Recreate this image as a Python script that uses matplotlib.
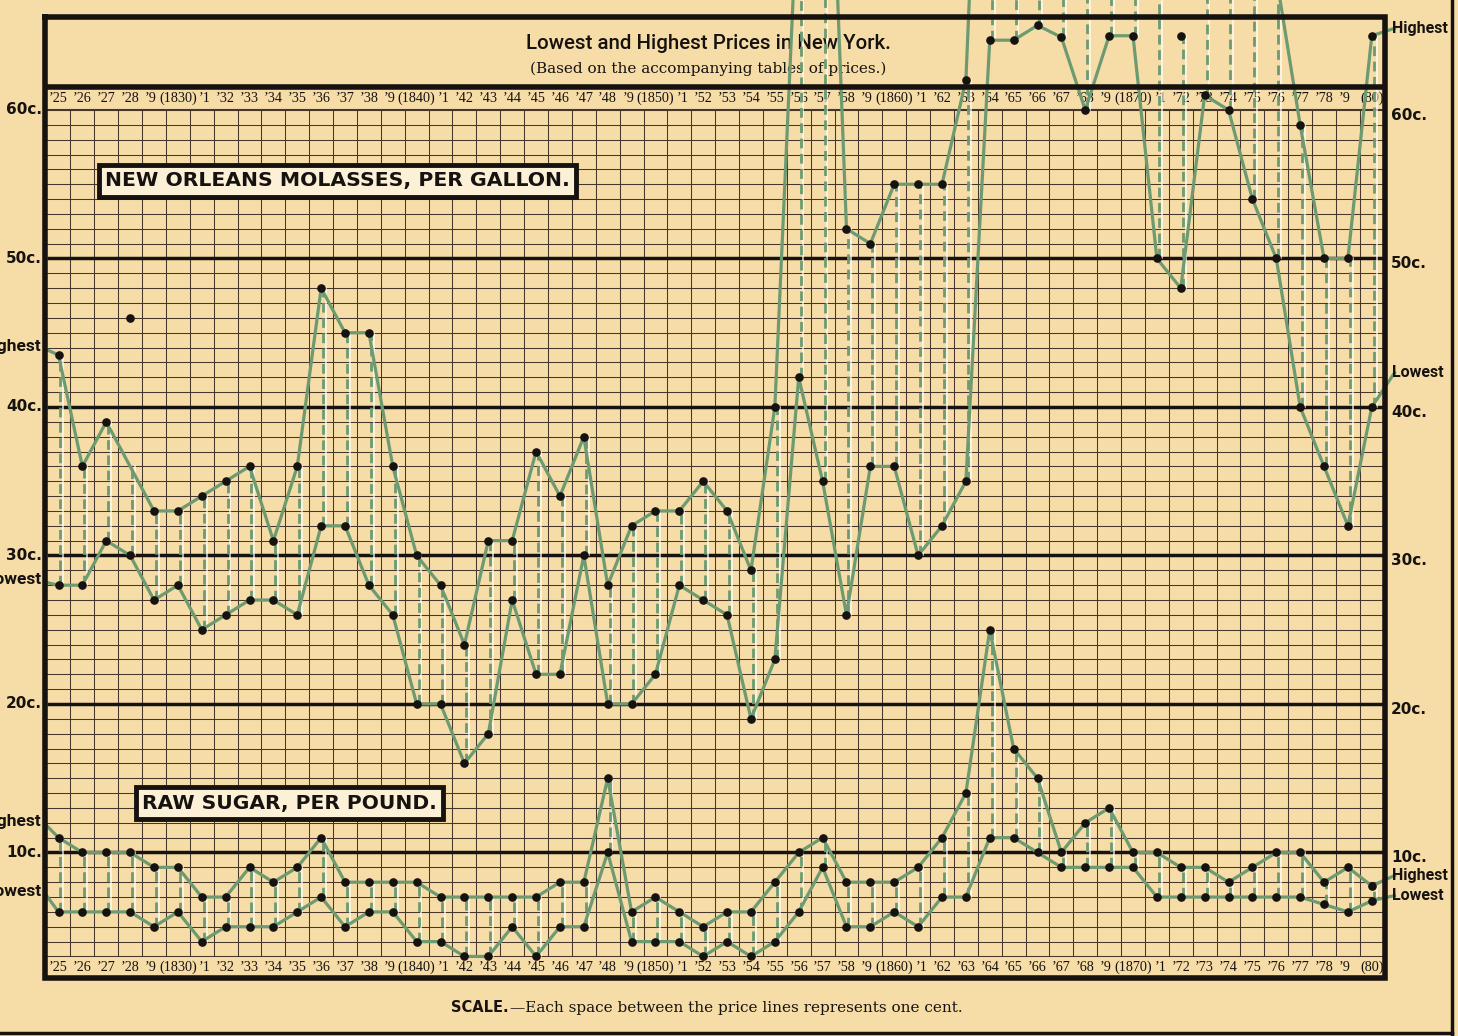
import numpy as np
import matplotlib.pyplot as plt

# Lowest and highest prices in New York, cents
years = np.arange(1825, 1881)

mol_hi = [43.5, 36, 39, 46, 33, 33, 34, 35, 36, 31,
          36, 48, 45, 45, 36, 30, 28, 24, 31, 31,
          37, 34, 38, 28, 32, 33, 33, 35, 33, 29,
          40, 76, 94, 52, 51, 55, 55, 55, 62, 100,
          95, 90, 88, 85, 85, 82, 78, 65, 74, 76,
          72, 69, 59, 50, 50, 65]
mol_lo = [28, 28, 31, 30, 27, 28, 25, 26, 27, 27,
          26, 32, 32, 28, 26, 20, 20, 16, 18, 27,
          22, 22, 30, 20, 20, 22, 28, 27, 26, 19,
          23, 42, 35, 26, 36, 36, 30, 32, 35, 64.7,
          64.7, 65.7, 64.9, 60, 65, 65, 50, 48, 61, 60,
          54, 50, 40, 36, 32, 40]
# highs the engraver left as loose dots, not joined into the line
mol_hi_loose = [1828, 1872]

sug_hi = [11, 10, 10, 10, 9, 9, 7, 7, 9, 8,
          9, 11, 8, 8, 8, 8, 7, 7, 7, 7,
          7, 8, 8, 15, 6, 7, 6, 5, 6, 6,
          8, 10, 11, 8, 8, 8, 9, 11, 14, 25,
          17, 15, 10, 12, 13, 10, 10, 9, 9, 8,
          9, 10, 10, 8, 9, 7.75]
sug_lo = [6, 6, 6, 6, 5, 6, 4, 5, 5, 5,
          6, 7, 5, 6, 6, 4, 4, 3, 3, 5,
          3, 5, 5, 10, 4, 4, 4, 3, 4, 3,
          4, 6, 9, 5, 5, 6, 5, 7, 7, 11,
          11, 10, 9, 9, 9, 9, 7, 7, 7, 7,
          7, 7, 7, 6.5, 6, 6.75]

year_labels = ["’25", "’26", "’27", "’28", "’9", "(1830)", "’1", "’32", "’33", "’34",
               "’35", "’36", "’37", "’38", "’9", "(1840)", "’1", "’42", "’43", "’44",
               "’45", "’46", "’47", "’48", "’9", "(1850)", "’1", "’52", "’53", "’54",
               "’55", "’56", "’57", "’58", "’9", "(1860)", "’1", "’62", "’63", "’64",
               "’65", "’66", "’67", "’68", "’9", "(1870)", "’1", "’72", "’73", "’74",
               "’75", "’76", "’77", "’78", "’9", "(80)"]
price_levels = [10, 20, 30, 40, 50, 60]

paper = '#f6dca7'
ink = '#161210'
gridc = '#46362c'
green = '#6d9a71'
sans_c = 'Roboto'

fig = plt.figure(figsize=(14.58, 10.36), dpi=100)
fig.patch.set_facecolor(paper)
ax = fig.add_axes([0, 0, 1, 1])
ax.set_facecolor(paper)
ax.set_xlim(1822.55, 1883.61)
ax.set_ylim(-2.357, 67.407)
ax.axis('off')

X0, X1 = years[0] - 0.5, years[-1] + 0.5
TOP, STRIP, GTOP, GBOT, BOT = 66.26, 61.55, 60, 3, 1.55

# ruled grid: one line per cent, heavy line every ten cents
for v in range(GBOT, GTOP + 1):
    if v in price_levels[:-1]:
        ax.plot([X0, X1], [v, v], color=ink, lw=2.5, zorder=2, solid_capstyle='butt')
    else:
        ax.plot([X0, X1], [v, v], color=gridc, lw=0.75 if v != GTOP else 1.5, zorder=1)
for x in years[:-1] + 0.5:
    ax.plot([x, x], [GBOT, GTOP], color=gridc, lw=0.75, zorder=1)

# frame
ax.plot([X0 - 0.05, X1 + 0.05, X1 + 0.05, X0 - 0.05, X0 - 0.05],
        [TOP, TOP, BOT, BOT, TOP], color=ink, lw=4, zorder=6, solid_joinstyle='miter')
ax.plot([X0, X1], [STRIP, STRIP], color=ink, lw=4, zorder=6)
# page border
ax.plot([1883.35, 1883.35], [-3, 68], color=ink, lw=2.5, zorder=6)
ax.plot([1822, 1883.35], [-2.16, -2.16], color=ink, lw=2.5, zorder=6)

# year strips; the labels beside a "(18x0)" are nudged apart
for i, (yr, lab) in enumerate(zip(years, year_labels)):
    shift = 0
    if i + 1 < len(year_labels) and year_labels[i + 1].startswith('('):
        shift = -0.14
    elif i > 0 and year_labels[i - 1].startswith('('):
        shift = 0.14
    for v in (60.78, 2.27):
        ax.text(yr + shift, v, lab, ha='center', va='center', fontsize=10.2,
                family='Liberation Serif', color=ink, zorder=2)

# price labels both sides
for p in price_levels:
    ax.text(1824.31, p, f'{p}c.', ha='right', va='center', fontsize=11,
            fontweight='bold', color=ink)
    ax.text(1880.8, p - 0.35, f'{p}c.', ha='left', va='center', fontsize=11,
            fontweight='bold', color=ink)

ax.text(1852.2, 64.5, 'Lowest and Highest Prices in New York.', ha='center', va='center',
        fontsize=14.8, family=sans_c, fontweight='medium', color=ink, zorder=2)
ax.text(1852.2, 62.76, '(Based on the accompanying tables of prices.)', ha='center',
        va='center', fontsize=11, family='DejaVu Serif', color=ink, zorder=2)

ax.text(1843.87, -0.47, 'SCALE.', ha='right', va='center', fontsize=10.5,
        fontweight='bold', color=ink)
ax.text(1843.9, -0.47, '—Each space between the price lines represents one cent.',
        ha='left', va='center', fontsize=11, family='DejaVu Serif', color=ink)


def draw_pair(hi, lo, loose=()):
    hi = np.array(hi, dtype=float)
    lo = np.array(lo, dtype=float)
    linked = ~np.isin(years, loose)
    line_hi = np.interp(years, years[linked], hi[linked])
    top = np.minimum(hi, line_hi)
    for yr, a, b in zip(years, lo, top):
        ax.plot([yr + 0.2, yr + 0.2], [a, b], color='white', lw=1.1, alpha=0.85, zorder=3)
        ax.plot([yr + 0.08, yr + 0.08], [a, b], color=green, lw=2,
                linestyle=(0, (3.5, 2)), zorder=3)
    ax.plot(years[linked], hi[linked], color=green, lw=2.3, zorder=4,
            solid_joinstyle='round')
    ax.plot(years, lo, color=green, lw=2.3, zorder=4, solid_joinstyle='round')
    ax.plot(years, hi, 'o', color=ink, ms=5.2, zorder=5)
    ax.plot(years, lo, 'o', color=ink, ms=5.2, zorder=5)
    return hi, lo


def side_labels(hi, lo, left_v, right_v):
    # leader lines run from the end points out to the Highest / Lowest labels
    for val, lv, rv, name in zip((hi, lo), left_v, right_v, ('Highest', 'Lowest')):
        ax.plot([X0 - 0.05, years[0]], [lv, val[0]], color=green, lw=2.3, zorder=4)
        ax.plot([years[-1], 1880.95], [val[-1], rv], color=green, lw=2.3, zorder=4)
        ax.text(1824.3, lv + 0.2, name, ha='right', va='center', fontsize=12.5,
                family=sans_c, fontweight='bold', color=ink, zorder=7)
        ax.text(1880.85, rv, name, ha='left', va='center', fontsize=11.5,
                family=sans_c, fontweight='bold', color=ink, zorder=7)


mh, ml = draw_pair(mol_hi, mol_lo, mol_hi_loose)
side_labels(mh, ml, (43.9, 28.2), (65.5, 42.3))
sh, sl = draw_pair(sug_hi, sug_lo)
side_labels(sh, sl, (11.9, 7.2), (8.45, 7.1))

box = dict(boxstyle='square,pad=0.3', facecolor='#fcf0d6', edgecolor=ink, lw=3.5)
ax.text(1836.68, 55.22, 'NEW ORLEANS MOLASSES, PER GALLON.', ha='center', va='center',
        fontsize=14.7, fontweight='bold', color=ink, bbox=box, zorder=8)
ax.text(1834.67, 13.33, 'RAW SUGAR, PER POUND.', ha='center', va='center',
        fontsize=14.6, fontweight='bold', color=ink, bbox=box, zorder=8)

fig.savefig('out.png', dpi=100, facecolor=paper)
